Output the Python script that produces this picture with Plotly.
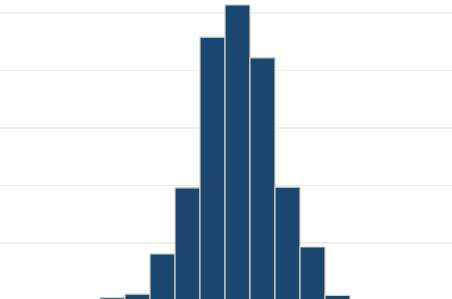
import plotly.graph_objects as go

bins = [1, 2, 3, 4, 5, 6, 7, 8, 9, 10]
counts = [5, 11, 81, 196, 458, 514, 422, 197, 93, 9]
grid_ticks = [100, 200, 300, 400, 500]

fig = go.Figure(go.Bar(
    x=bins, y=counts, width=1,
    marker=dict(color="#1b466f", line=dict(color="#d9d4b4", width=1.2)),
    hoverinfo="skip",
))
fig.update_layout(
    width=452, height=299,
    margin=dict(l=0, r=0, t=0, b=0),
    paper_bgcolor="white", plot_bgcolor="white",
    showlegend=False, bargap=0,
    xaxis=dict(range=[-3.5, 14.58], showgrid=False, showticklabels=False,
               zeroline=False, showline=False, ticks=""),
    yaxis=dict(range=[2.6, 522.6], tickvals=grid_ticks, showticklabels=False,
               gridcolor="#eeeeee", gridwidth=1.5, zeroline=False, showline=False, ticks=""),
)
fig.write_html("out.html",
               config={"displayModeBar": False, "staticPlot": True},
               post_script="document.body.style.margin='0';document.body.style.overflow='hidden';")
